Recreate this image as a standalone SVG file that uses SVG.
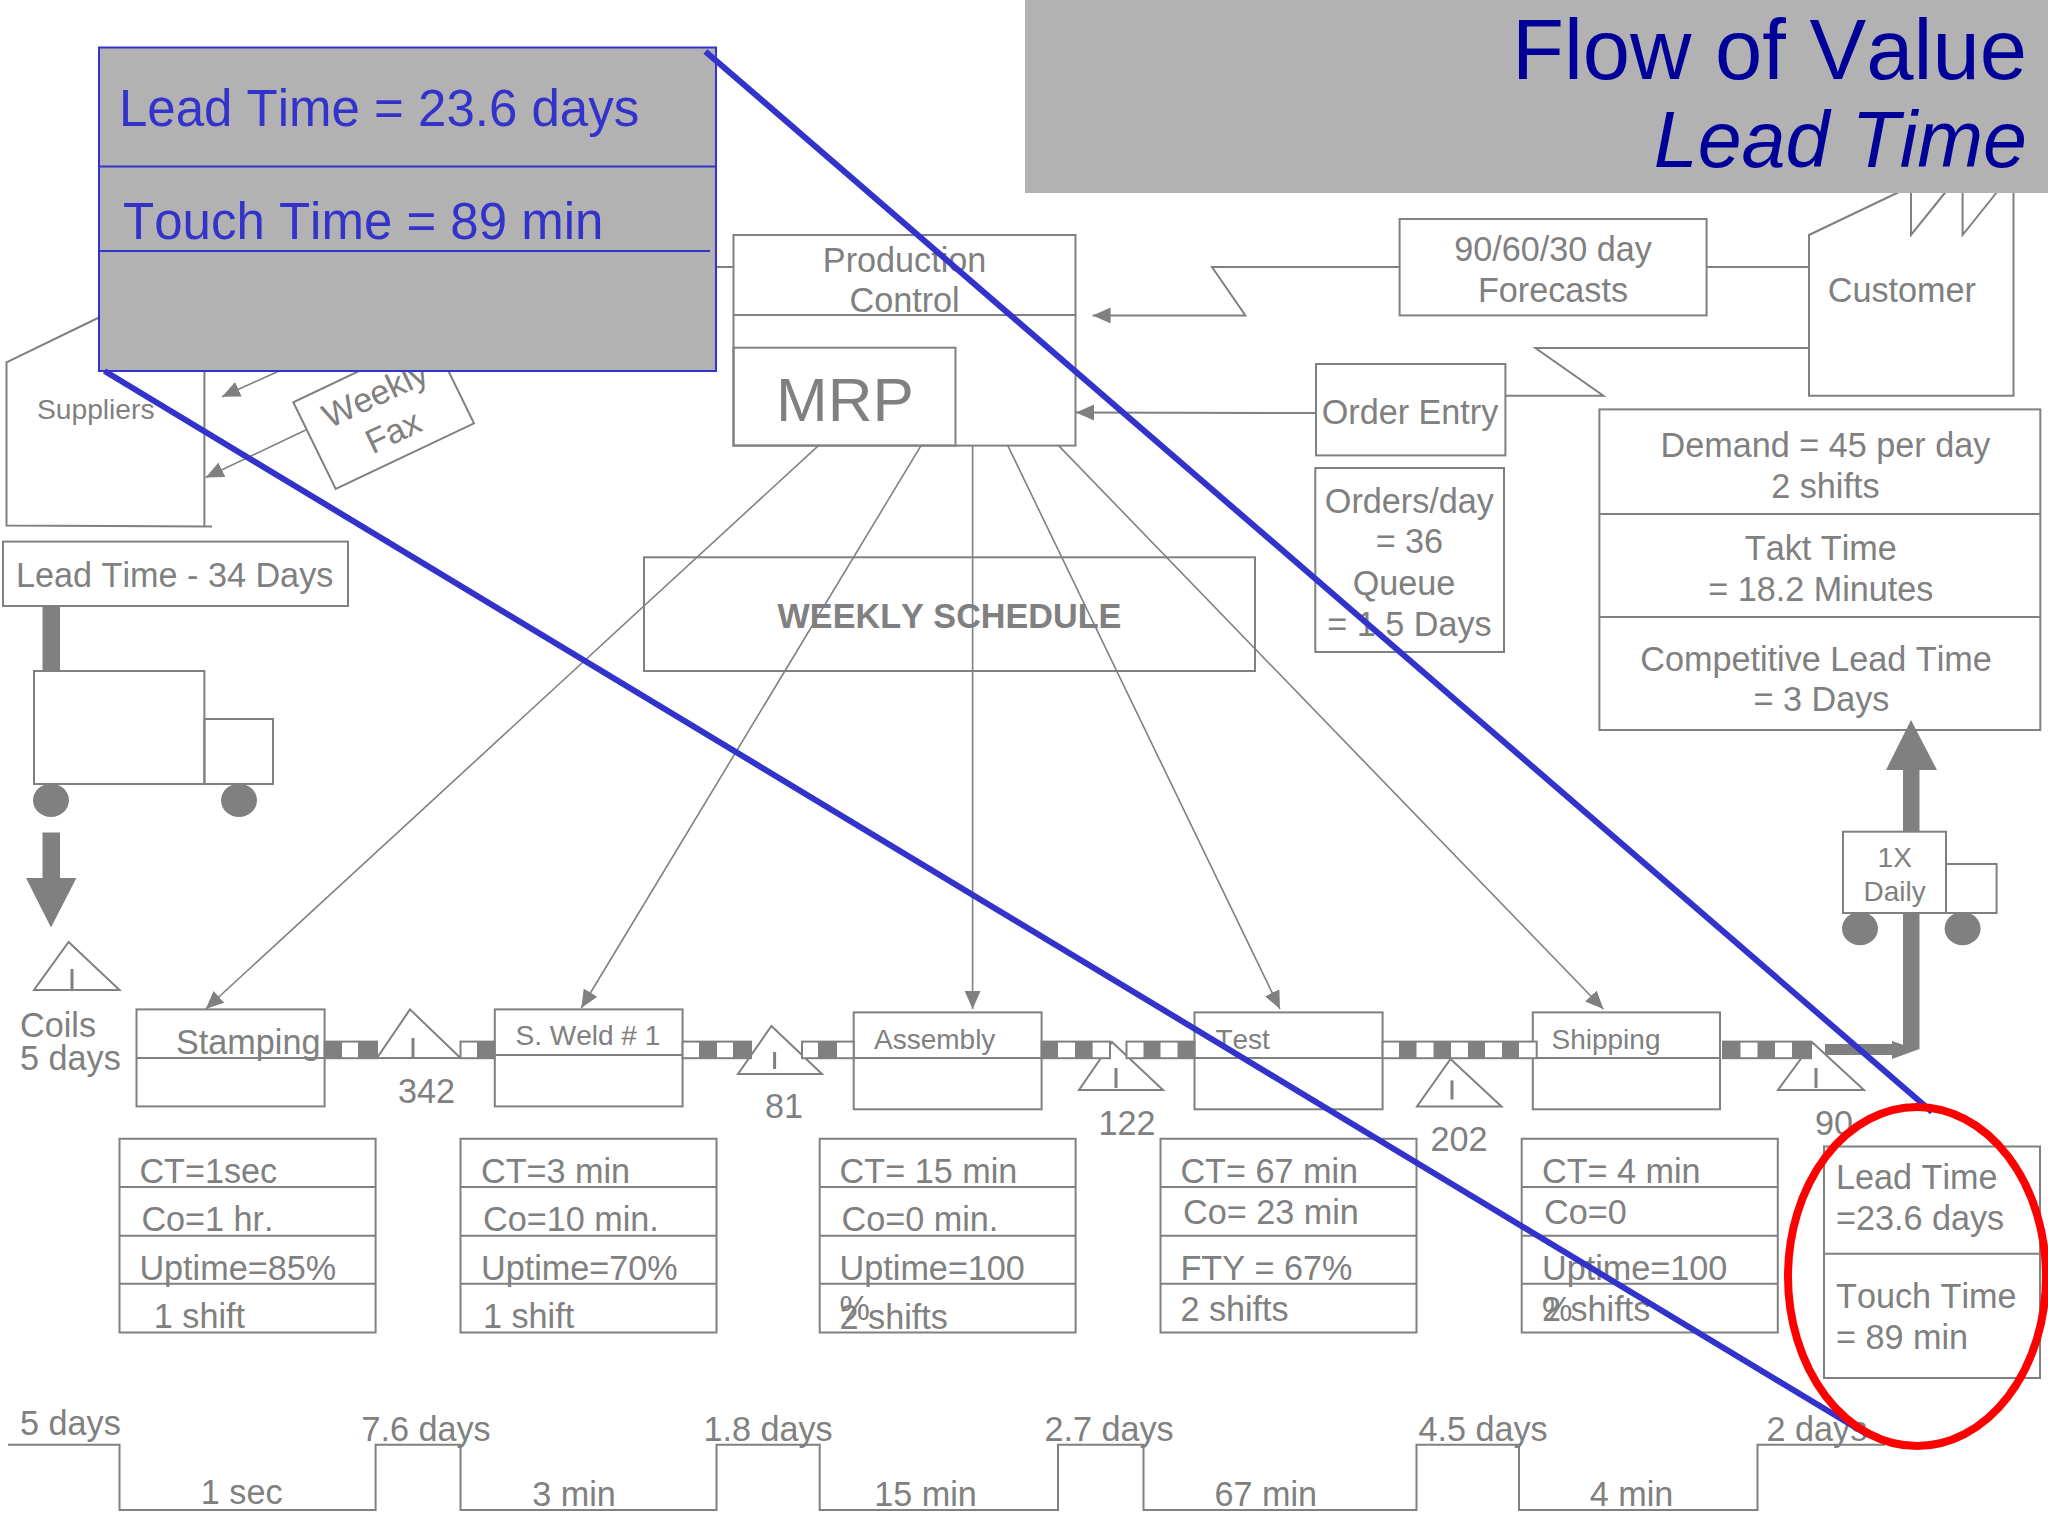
<svg xmlns="http://www.w3.org/2000/svg" width="2048" height="1536" viewBox="0 0 2048 1536">
<style>
text{font-family:"Liberation Sans",Arial,sans-serif;fill:#808080;font-size:34.2px;font-kerning:none}
.m{text-anchor:middle}
.s28{font-size:28px}
.b{fill:none;stroke:#808080;stroke-width:2}
.w{fill:#fff;stroke:#808080;stroke-width:2}
.i{fill:none;stroke:#808080;stroke-width:3}
.d{fill:#808080;stroke:none}
.c{fill:none;stroke:#808080;stroke-width:1.6}
.bar{fill:#fff;stroke:#808080;stroke-width:2}
.blue{fill:none;stroke:#3333cc;stroke-width:6}
.bt{fill:#3333cc;font-size:51px}
</style>
<defs>
<marker id="ah" markerUnits="userSpaceOnUse" markerWidth="20" markerHeight="18" refX="18" refY="8" orient="auto"><path d="M0 0L18 8L0 16Z" fill="#808080"/></marker>
</defs>
<rect width="2048" height="1536" fill="#fff"/>

<g id="connectors">
<path class="c" d="M818.4 445.6L205.7 1009" marker-end="url(#ah)"/>
<path class="c" d="M921 445.6L581.3 1008" marker-end="url(#ah)"/>
<path class="c" d="M972.6 445.6V1009" marker-end="url(#ah)"/>
<path class="c" d="M1007.8 445.6L1280 1009" marker-end="url(#ah)"/>
<path class="c" d="M1058.6 445.6L1603.4 1009" marker-end="url(#ah)"/>
<path class="b" d="M1399.6 267H1212L1245.4 315.4H1092.6" marker-end="url(#ah)"/>
<path class="b" d="M1706.6 267H1809"/>
<path class="b" d="M1809 348H1535.4L1603.4 395.7H1505.4"/>
<path class="b" d="M1316 413L1076 412.5" marker-end="url(#ah)"/>
<path class="b" d="M700 267H733.5"/>
<path class="c" d="M290 366L222 396.7" marker-end="url(#ah)"/>
<path class="c" d="M305.7 430L205.7 477.5" marker-end="url(#ah)"/>
<rect class="d" x="42.5" y="606" width="17.5" height="65"/>
<path class="d" d="M42.5 832.6H60V878H76.4L51 927.6L26 878H42.5Z"/>
<path class="d" d="M1825 1044H1892V1041L1903 1044.7V770H1886L1911 720L1937 770H1919.5V1049L1892 1059V1055H1825Z"/>
<path id="timeline" class="b" d="M8 1444.8H119.5V1510H375.6V1444.8H460.5V1510H716.5V1444.8H819.7V1510H1058V1444.8H1143.5V1510H1416.5V1444.8H1519V1510H1757.5V1444.8H1885"/>
</g>

<g id="production-control">
<rect class="b" x="733.5" y="235" width="342" height="210.6"/>
<path class="b" d="M733.5 315H1075.5"/>
<rect class="b" x="733.5" y="347.7" width="222" height="97.9"/>
<text class="m" x="904.6" y="272">Production</text>
<text class="m" x="904.6" y="312">Control</text>
<text x="776" y="421" style="font-size:62px">MRP</text>
</g>
<g id="forecasts"><rect class="b" x="1399.6" y="219" width="307" height="96.4"/>
<text class="m" x="1553" y="260.5">90/60/30 day</text><text class="m" x="1553" y="302">Forecasts</text></g>
<g id="customer">
<path class="b" d="M1899 192L1809 235V395.7H2013.5V192M1911 192V235L1945.6 192M1962.6 192V235L1997 192"/>
<text x="1827.7" y="302">Customer</text></g>
<g id="order-entry"><rect class="b" x="1316" y="364" width="189.4" height="91.4"/>
<text class="m" x="1410" y="423.6">Order Entry</text></g>
<g id="orders-day"><rect class="b" x="1315.3" y="468" width="188.7" height="184"/>
<text class="m" x="1409.4" y="512.7">Orders/day</text><text class="m" x="1409.4" y="553.4">= 36</text>
<text class="m" x="1404" y="595">Queue</text><text class="m" x="1409.4" y="636">= 1.5 Days</text></g>
<g id="demand"><rect class="b" x="1599.4" y="409.4" width="440.9" height="320.6"/>
<path class="b" d="M1599.4 514H2040.3M1599.4 617H2040.3"/>
<text class="m" x="1825.4" y="457.4">Demand = 45 per day</text><text class="m" x="1825.4" y="498">2 shifts</text>
<text class="m" x="1820.8" y="559.8">Takt Time</text><text class="m" x="1820.8" y="600.5">= 18.2 Minutes</text>
<text class="m" x="1816" y="671">Competitive Lead Time</text><text class="m" x="1821.5" y="711">= 3 Days</text></g>
<g id="suppliers">
<path class="b" d="M100 317L6.5 362.4V525.5L212 526.4M204.4 370V526"/>
<text x="37" y="418.7" style="font-size:28.2px">Suppliers</text></g>
<g id="weekly-fax">
<path class="w" d="M293.3 402.3L335.7 489L474 423.3L431.6 336.6Z"/>
<g transform="translate(375 394) rotate(-25.4)"><text class="m" y="12">Weekly</text></g>
<g transform="translate(393 431.5) rotate(-25.4)"><text class="m" y="12">Fax</text></g>
</g>
<g id="lead-time-34"><rect class="b" x="3" y="541.6" width="345" height="64.4"/>
<text x="16" y="586.7">Lead Time - 34 Days</text></g>
<g id="truck"><rect class="b" x="34" y="671" width="170.4" height="113"/><rect class="b" x="204.4" y="719" width="68.6" height="65"/>
<ellipse class="d" cx="51" cy="800.3" rx="18" ry="16.6"/><ellipse class="d" cx="239" cy="800.3" rx="18" ry="16.6"/></g>
<g id="weekly-schedule"><rect class="b" x="644" y="557.3" width="611" height="113.7"/>
<text class="m" x="949.5" y="627.8" font-weight="bold">WEEKLY SCHEDULE</text></g>

<g id="coils"><path class="b" d="M68.6 942L119.5 990H34Z"/><path class="i" d="M72 969V990"/>
<text x="20" y="1037">Coils</text><text x="20" y="1070">5 days</text></g>

<g id="stamping"><rect class="b" x="136.5" y="1009.4" width="188.1" height="97"/><path class="b" d="M136.5 1058H324.6"/>
<text x="176" y="1053.5">Stamping</text></g>
<g id="inv-342"><path class="w" d="M410 1009.4L460.5 1058H377Z"/><path class="i" d="M413 1038V1058"/><text class="m" x="426.5" y="1102.5">342</text></g>
<g id="s-weld"><rect class="b" x="494.8" y="1009.4" width="187.8" height="97"/><path class="b" d="M494.8 1055H682.6"/>
<text class="s28" x="515.5" y="1045">S. Weld # 1</text></g>
<g id="inv-81"><path class="w" d="M771.4 1026L822 1074H738Z"/><path class="i" d="M774.6 1052V1069"/><text class="m" x="784" y="1118">81</text></g>
<g id="assembly"><rect class="b" x="853.7" y="1012.4" width="187.9" height="96.9"/><path class="b" d="M853.7 1058H1041.6"/>
<text class="s28" x="874" y="1048.6">Assembly</text></g>
<g id="inv-122"><path class="w" d="M1112 1042L1163 1090H1079Z"/><path class="i" d="M1116 1068V1088"/><text class="m" x="1127" y="1135">122</text></g>
<g id="test"><rect class="b" x="1194.5" y="1012.4" width="188.1" height="96.9"/><path class="b" d="M1194.5 1058H1382.6"/>
<text class="s28" x="1215.4" y="1048.6">Test</text></g>
<g id="inv-202"><path class="w" d="M1450.5 1059L1501.5 1106.4H1417Z"/><path class="i" d="M1452 1080.4V1099.5"/><text class="m" x="1459" y="1151">202</text></g>
<g id="shipping"><rect class="b" x="1532.8" y="1012.4" width="187.2" height="96.9"/><path class="b" d="M1532.8 1058H1720"/>
<text class="s28" x="1551.5" y="1048.6">Shipping</text></g>
<g id="inv-90"><path class="w" d="M1812.7 1042.7L1864 1090H1778Z"/><path class="i" d="M1816 1068V1088"/><text class="m" x="1834" y="1135">90</text></g>

<g id="push-bars">
<rect class="bar" x="324.6" y="1041.6" width="52.4" height="16.6"/><rect class="d" x="324.6" y="1041" width="17.4" height="17.6"/><rect class="d" x="358" y="1041" width="19" height="17.6"/>
<rect class="bar" x="460.5" y="1041.6" width="34" height="16.6"/><rect class="d" x="477" y="1041" width="17.5" height="17.6"/>
<rect class="bar" x="682.6" y="1041.6" width="68.4" height="16.6"/><rect class="d" x="699" y="1041" width="18" height="17.6"/><rect class="d" x="733" y="1041" width="18" height="17.6"/>
<rect class="bar" x="802" y="1041.6" width="51.7" height="16.6"/><rect class="d" x="818" y="1041" width="19" height="17.6"/>
<rect class="bar" x="1041.6" y="1041.6" width="68.4" height="16.6"/><rect class="d" x="1041.6" y="1041" width="16.4" height="17.6"/><rect class="d" x="1075" y="1041" width="17.6" height="17.6"/>
<rect class="bar" x="1126.5" y="1041.6" width="68" height="16.6"/><rect class="d" x="1143.5" y="1041" width="17" height="17.6"/><rect class="d" x="1177.5" y="1041" width="17" height="17.6"/>
<rect class="bar" x="1382.6" y="1041.6" width="154.1" height="16.6"/><rect class="d" x="1399" y="1041" width="17.5" height="17.6"/><rect class="d" x="1433.5" y="1041" width="17.5" height="17.6"/><rect class="d" x="1468" y="1041" width="17" height="17.6"/><rect class="d" x="1502" y="1041" width="17" height="17.6"/>
<rect class="bar" x="1723" y="1041.6" width="88" height="16.6"/><rect class="d" x="1723" y="1041" width="17.5" height="17.6"/><rect class="d" x="1757.5" y="1041" width="17.5" height="17.6"/><rect class="d" x="1792" y="1041" width="19" height="17.6"/>
</g>

<g id="daily-truck"><rect class="w" x="1843" y="831.7" width="103" height="81.3"/><rect class="b" x="1946" y="864" width="50.6" height="49"/>
<ellipse class="d" cx="1860" cy="928.6" rx="18" ry="16.6"/><ellipse class="d" cx="1962.6" cy="928.6" rx="18" ry="16.6"/>
<text class="m s28" x="1894.7" y="867.4">1X</text><text class="m s28" x="1894.7" y="900.5">Daily</text></g>

<g id="data-stamping"><path class="b" d="M119.5 1138.7H375.6V1332.6H119.5ZM119.5 1187H375.6M119.5 1235.7H375.6M119.5 1283.7H375.6"/>
<text x="139.4" y="1182.8">CT=1sec</text><text x="141.4" y="1230.8">Co=1 hr.</text><text x="139.4" y="1279.8">Uptime=85%</text><text x="153.8" y="1327.8">1 shift</text></g>
<g id="data-weld"><path class="b" d="M460.5 1138.7H716.5V1332.6H460.5ZM460.5 1187H716.5M460.5 1235.7H716.5M460.5 1283.7H716.5"/>
<text x="481" y="1182.8">CT=3 min</text><text x="483" y="1230.8">Co=10 min.</text><text x="481" y="1279.8">Uptime=70%</text><text x="483" y="1327.8">1 shift</text></g>
<g id="data-assembly"><path class="b" d="M819.7 1138.7H1075.6V1332.6H819.7ZM819.7 1187H1075.6M819.7 1235.7H1075.6M819.7 1283.7H1075.6"/>
<text x="839.6" y="1182.8">CT= 15 min</text><text x="841.6" y="1230.8">Co=0 min.</text><text x="839.6" y="1279.8">Uptime=100</text><text x="839.6" y="1320">%</text><text x="839.6" y="1328.5">2 shifts</text></g>
<g id="data-test"><path class="b" d="M1160.5 1138.7H1416.5V1332.6H1160.5ZM1160.5 1187H1416.5M1160.5 1235.7H1416.5M1160.5 1283.7H1416.5"/>
<text x="1180.4" y="1182.8">CT= 67 min</text><text x="1183" y="1224.4">Co= 23 min</text><text x="1180.4" y="1279.8">FTY = 67%</text><text x="1180.4" y="1321">2 shifts</text></g>
<g id="data-shipping"><path class="b" d="M1521.7 1138.7H1777.8V1332.6H1521.7ZM1521.7 1187H1777.8M1521.7 1235.7H1777.8M1521.7 1283.7H1777.8"/>
<text x="1542" y="1182.8">CT= 4 min</text><text x="1544" y="1224.4">Co=0</text><text x="1542" y="1279.8">Uptime=100</text><text x="1542" y="1321">%</text><text x="1542" y="1321">2 shifts</text></g>
<g id="totals"><path class="b" d="M1824 1146.5H2040V1378H1824ZM1824 1253.8H2040"/>
<text x="1836" y="1189">Lead Time</text><text x="1836" y="1229.8">=23.6 days</text><text x="1836" y="1308">Touch Time</text><text x="1836" y="1349">= 89 min</text></g>

<g id="timeline-labels">
<text x="20" y="1435">5 days</text>
<text class="m" x="426" y="1441">7.6 days</text><text class="m" x="768" y="1441">1.8 days</text><text class="m" x="1109" y="1441">2.7 days</text><text class="m" x="1483" y="1441">4.5 days</text><text x="1766.5" y="1441">2 days</text>
<text class="m" x="241.7" y="1504">1 sec</text><text class="m" x="574" y="1506">3 min</text><text class="m" x="925.5" y="1506">15 min</text><text class="m" x="1265.7" y="1506">67 min</text><text class="m" x="1631.5" y="1506">4 min</text>
</g>

<g id="title"><rect x="1025" y="0" width="1023" height="193" fill="#b2b2b2"/>
<text x="2027" y="79" text-anchor="end" style="font-size:85px;fill:#000099">Flow of Value</text>
<text x="2027" y="166.5" text-anchor="end" font-style="italic" style="font-size:79px;fill:#000099">Lead Time</text></g>

<g id="callout"><rect x="99" y="47.5" width="617" height="323.5" fill="#b2b2b2" stroke="#3333cc" stroke-width="2"/>
<path d="M99 166.5H716M99 251H710" fill="none" stroke="#3333cc" stroke-width="2"/>
<text class="bt" x="119" y="125.5">Lead Time = 23.6 days</text>
<text class="bt" x="123" y="238.5">Touch Time = 89 min</text></g>
<g id="zoom-lines">
<path class="blue" d="M705.4 51.4L1932 1112"/>
<path class="blue" d="M104.5 371L1868 1435"/>
</g>
<ellipse id="highlight" cx="1917" cy="1276.5" rx="129" ry="169.5" fill="none" stroke="#ff0000" stroke-width="8"/>
</svg>
